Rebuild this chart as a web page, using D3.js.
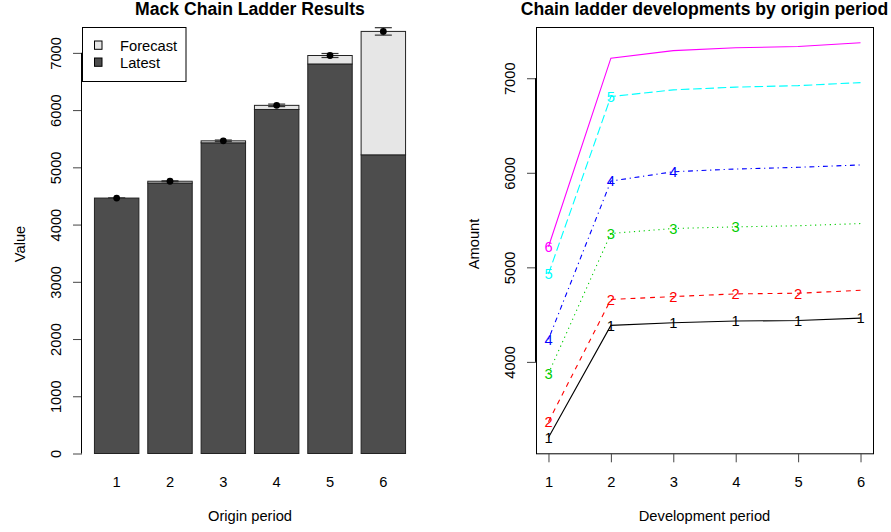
<!DOCTYPE html>
<html>
<head>
<meta charset="utf-8">
<script src="https://cdn.jsdelivr.net/npm/d3@7"></script>
<style>
  body { margin: 0; background: #fff; }
  svg { display: block; font-family: "Liberation Sans", Arial, Helvetica, sans-serif; }
</style>
</head>
<body>
<div id="chart"></div>
<script>
// data
var origins = [1, 2, 3, 4, 5, 6];
var devPeriods = [1, 2, 3, 4, 5, 6];
var latest = [4463, 4726, 5428, 6011, 6806, 5218];
var ultimate = [4463, 4757, 5463, 6083, 6954, 7375];
var mackSE = [0, 8, 14, 22, 35, 65];
var dev1 = [3200, 4386, 4414, 4432, 4437, 4463];
var dev2 = [3368, 4660, 4691, 4719, 4726, 4757];
var dev3 = [3877, 5358, 5411, 5428, 5440, 5463];
var dev4 = [4239, 5912, 6011, 6040, 6058, 6083];
var dev5 = [4930, 6806, 6877, 6906, 6922, 6954];
var dev6 = [5218, 7212, 7292, 7322, 7336, 7375];
var fullTriangle = [dev1, dev2, dev3, dev4, dev5, dev6];
var yTicksLeft = [0, 1000, 2000, 3000, 4000, 5000, 6000, 7000];
var yTicksRight = [4000, 5000, 6000, 7000];
var legendLabels = ["Forecast", "Latest"];

var w = 891, h = 532;
var fs = 14.7;
var lineCols = ["#000000", "#FF0000", "#00CD00", "#0000FF", "#00FFFF", "#FF00FF"];
var lineDash = [null, "4.9,4.9", "1.2,3.7", "1.2,3.7,4.9,3.7", "8.6,3.7", null];

var svg = d3.select("#chart").append("svg")
    .attr("width", w)
    .attr("height", h);

//----- left panel: Mack chain ladder results -----
var left = { x0: 82, x1: 418, y0: 27, y1: 453.5 };

var xL = d3.scaleLinear()
    .domain([-0.08, 7.48])
    .range([left.x0, left.x1]);
var yL = d3.scaleLinear()
    .domain([0, 7452])
    .range([left.y1, left.y0]);

var barL = function (i) { return 0.2 + i * 1.2; };
var barC = function (i) { return barL(i) + 0.5; };

var gL = svg.append("g");

// latest part of each bar
gL.append("g").selectAll("rect")
    .data(origins)
    .enter().append("rect")
    .attr("x", function (d, i) { return xL(barL(i)); })
    .attr("width", function (d, i) { return xL(barL(i) + 1) - xL(barL(i)); })
    .attr("y", function (d, i) { return yL(latest[i]); })
    .attr("height", function (d, i) { return yL(0) - yL(latest[i]); })
    .attr("fill", "#4D4D4D")
    .attr("stroke", "#222")
    .attr("stroke-width", 1);

// forecast part stacked on top
gL.append("g").selectAll("rect")
    .data(origins)
    .enter().append("rect")
    .attr("x", function (d, i) { return xL(barL(i)); })
    .attr("width", function (d, i) { return xL(barL(i) + 1) - xL(barL(i)); })
    .attr("y", function (d, i) { return yL(ultimate[i]); })
    .attr("height", function (d, i) { return yL(latest[i]) - yL(ultimate[i]); })
    .attr("fill", "#E6E6E6")
    .attr("stroke", "#222")
    .attr("stroke-width", 1);

// error bars (ultimate +/- Mack S.E.)
var err = gL.append("g").selectAll("g")
    .data(origins)
    .enter().append("g")
    .attr("stroke", "#333")
    .attr("stroke-width", 1.2);
err.append("line")
    .attr("x1", function (d, i) { return xL(barC(i)); })
    .attr("x2", function (d, i) { return xL(barC(i)); })
    .attr("y1", function (d, i) { return yL(ultimate[i] - mackSE[i]); })
    .attr("y2", function (d, i) { return yL(ultimate[i] + mackSE[i]); });
[-1, 1].forEach(function (s) {
    err.append("line")
        .attr("x1", function (d, i) { return xL(barC(i)) - 8.5; })
        .attr("x2", function (d, i) { return xL(barC(i)) + 8.5; })
        .attr("y1", function (d, i) { return yL(ultimate[i] + s * mackSE[i]); })
        .attr("y2", function (d, i) { return yL(ultimate[i] + s * mackSE[i]); });
});
gL.append("g").selectAll("circle")
    .data(origins)
    .enter().append("circle")
    .attr("cx", function (d, i) { return xL(barC(i)); })
    .attr("cy", function (d, i) { return yL(ultimate[i]); })
    .attr("r", 3.4)
    .attr("fill", "#000");

// y axis
var axL = gL.append("g")
    .attr("transform", "translate(" + left.x0 + ",0)")
    .call(d3.axisLeft(yL).tickValues(yTicksLeft).tickSize(9).tickSizeOuter(0).tickFormat(d3.format("d")));
styleYAxis(axL, yTicksLeft, yL);

// origin labels under bars
gL.append("g").selectAll("text")
    .data(origins)
    .enter().append("text")
    .attr("x", function (d, i) { return xL(barC(i)); })
    .attr("y", 487)
    .attr("text-anchor", "middle")
    .style("font-size", fs + "px")
    .text(function (d) { return d; });

// titles
svg.append("text")
    .attr("x", (left.x0 + left.x1) / 2)
    .attr("y", 15)
    .attr("text-anchor", "middle")
    .style("font-size", "17.6px")
    .style("font-weight", "bold")
    .text("Mack Chain Ladder Results");
svg.append("text")
    .attr("x", (left.x0 + left.x1) / 2)
    .attr("y", 521)
    .attr("text-anchor", "middle")
    .style("font-size", fs + "px")
    .text("Origin period");
svg.append("text")
    .attr("transform", "translate(" + (left.x0 - 57) + "," + 244 + ") rotate(-90)")
    .attr("text-anchor", "middle")
    .style("font-size", fs + "px")
    .text("Value");

// legend
var leg = gL.append("g");
leg.append("rect")
    .attr("x", left.x0 + 0.5)
    .attr("y", left.y0 + 0.5)
    .attr("width", 103.5)
    .attr("height", 54)
    .attr("fill", "#fff")
    .attr("stroke", "#000");
legendLabels.forEach(function (lab, i) {
    leg.append("rect")
        .attr("x", 94.5)
        .attr("y", 41 + i * 17)
        .attr("width", 7.5)
        .attr("height", 8.3)
        .attr("fill", i == 0 ? "#E6E6E6" : "#4D4D4D")
        .attr("stroke", "#000");
    leg.append("text")
        .attr("x", 120)
        .attr("y", 51 + i * 16.7)
        .style("font-size", fs + "px")
        .text(lab);
});

//----- right panel: developments by origin period -----
var right = { x0: 536, x1: 873, y0: 27, y1: 453.3 };

var xR = d3.scaleLinear()
    .domain([0.8, 6.2])
    .range([right.x0, right.x1]);
var ext = d3.extent(d3.merge(fullTriangle));
var pad = (ext[1] - ext[0]) * 0.04;
var yR = d3.scaleLinear()
    .domain([ext[0] - pad, ext[1] + pad])
    .range([right.y1, right.y0]);

var gR = svg.append("g");

var line = d3.line()
    .x(function (d, i) { return xR(devPeriods[i]); })
    .y(function (d) { return yR(d); });

gR.append("g").selectAll("path")
    .data(fullTriangle)
    .enter().append("path")
    .attr("d", line)
    .attr("fill", "none")
    .attr("stroke", function (d, i) { return lineCols[i]; })
    .attr("stroke-width", 1.1)
    .attr("stroke-dasharray", function (d, i) { return lineDash[i]; });

// observed points labelled by origin number
fullTriangle.forEach(function (row, o) {
    gR.append("g").selectAll("text")
        .data(row.slice(0, 6 - o))
        .enter().append("text")
        .attr("x", function (d, i) { return xR(devPeriods[i]); })
        .attr("y", function (d) { return yR(d); })
        .attr("dy", "0.36em")
        .attr("text-anchor", "middle")
        .attr("fill", lineCols[o])
        .style("font-size", fs + "px")
        .text(origins[o]);
});

// box
gR.append("rect")
    .attr("x", right.x0 + 0.5)
    .attr("y", right.y0 + 0.5)
    .attr("width", right.x1 - right.x0)
    .attr("height", right.y1 - right.y0)
    .attr("fill", "none")
    .attr("stroke", "#000");

var axRy = gR.append("g")
    .attr("transform", "translate(" + right.x0 + ",0)")
    .call(d3.axisLeft(yR).tickValues(yTicksRight).tickSize(9).tickSizeOuter(0).tickFormat(d3.format("d")));
styleYAxis(axRy, yTicksRight, yR);

var axRx = gR.append("g")
    .attr("transform", "translate(0," + right.y1 + ")")
    .call(d3.axisBottom(xR).tickValues(devPeriods).tickSize(9).tickSizeOuter(0).tickFormat(d3.format("d")));
axRx.select(".domain").remove();
axRx.selectAll(".tick line").attr("stroke", "#444");
axRx.selectAll("text")
    .attr("y", 487 - right.y1)
    .attr("dy", null)
    .attr("fill", "#000")
    .style("font-size", fs + "px");
axRx.style("font-family", null);

svg.append("text")
    .attr("x", (right.x0 + right.x1) / 2)
    .attr("y", 15)
    .attr("text-anchor", "middle")
    .style("font-size", "17.6px")
    .style("font-weight", "bold")
    .text("Chain ladder developments by origin period");
svg.append("text")
    .attr("x", (right.x0 + right.x1) / 2)
    .attr("y", 521)
    .attr("text-anchor", "middle")
    .style("font-size", fs + "px")
    .text("Development period");
svg.append("text")
    .attr("transform", "translate(" + (right.x0 - 57) + "," + 244 + ") rotate(-90)")
    .attr("text-anchor", "middle")
    .style("font-size", fs + "px")
    .text("Amount");

// R style y axis: line from first to last tick, rotated labels
function styleYAxis(ax, ticks, scale) {
    ax.style("font-family", null);
    ax.select(".domain").remove();
    ax.append("line")
        .attr("x1", -0.5).attr("x2", -0.5)
        .attr("y1", scale(ticks[0]))
        .attr("y2", scale(ticks[ticks.length - 1]))
        .attr("stroke", "#000");
    ax.selectAll(".tick line").attr("stroke", "#444");
    ax.selectAll(".tick text")
        .attr("transform", "rotate(-90)")
        .attr("x", 0)
        .attr("y", -21)
        .attr("dy", null)
        .attr("text-anchor", "middle")
        .attr("fill", "#000")
        .style("font-size", fs + "px");
}
</script>
</body>
</html>
